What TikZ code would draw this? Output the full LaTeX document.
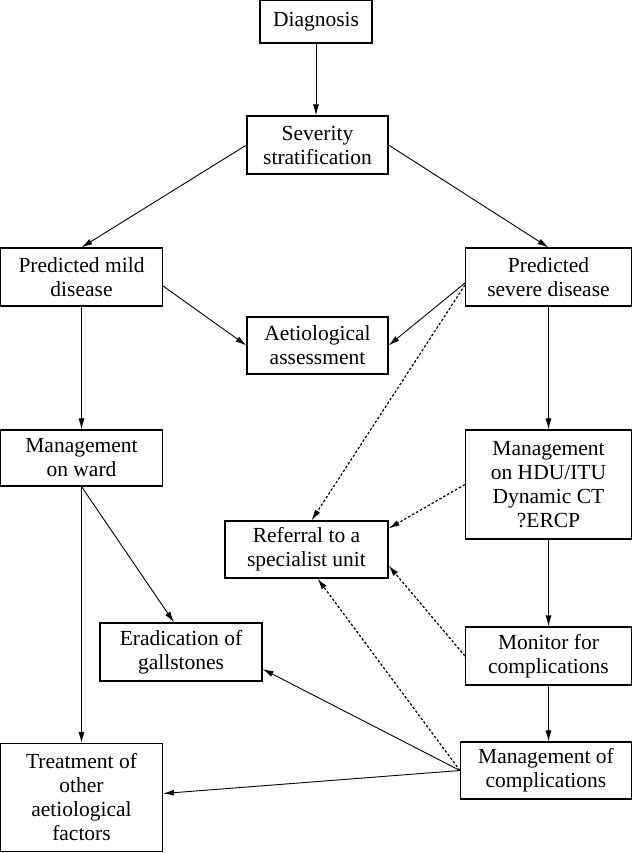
\documentclass[tikz,border=0pt]{standalone}
\usepackage{fontspec}
\setmainfont{Liberation Serif}
\usetikzlibrary{arrows.meta}
\tikzset{
  box/.style={draw, line width=1.1pt, align=center, inner sep=2pt,
    font=\fontsize{21.5}{24}\selectfont},
  arr/.style={-{Latex[length=11pt,width=6pt]}, line width=0.9pt},
  dots/.style={arr, line width=1.2pt, dash pattern=on 2.5pt off 2pt},
}
\begin{document}
\begin{tikzpicture}[x=1pt,y=1pt]
  \useasboundingbox (0,0) rectangle (633,-853);
  % boxes
  \node[box, minimum width=112, minimum height=43] (diag) at (316,-21.5) {Diagnosis};
  \node[box, minimum width=141, minimum height=58] (sev) at (317.5,-145) {Severity\\stratification};
  \node[box, minimum width=162, minimum height=58] (mild) at (81.5,-277) {Predicted mild\\disease};
  \node[box, minimum width=166, minimum height=58] (severe) at (548.5,-277) {Predicted\\severe disease};
  \node[box, minimum width=141, minimum height=57] (aet) at (317.5,-345.5) {Aetiological\\assessment};
  \node[box, minimum width=162, minimum height=56] (ward) at (81.5,-458) {Management\\on ward};
  \node[box, minimum width=166, minimum height=109] (hdu) at (548.5,-484.5) {Management\\on HDU/ITU\\Dynamic CT\\?ERCP};
  \node[box, minimum width=163, minimum height=57] (ref) at (306.5,-549.5) {Referral to a\\specialist unit};
  \node[box, minimum width=162, minimum height=58] (erad) at (181,-652) {Eradication of\\gallstones};
  \node[box, minimum width=166, minimum height=58] (mon) at (548.5,-656) {Monitor for\\complications};
  \node[box, minimum width=171, minimum height=57] (mcomp) at (546,-770.5) {Management of\\complications};
  \node[box, minimum width=162, minimum height=108] (treat) at (81.5,-797.5) {Treatment of\\other\\aetiological\\factors};
  % solid arrows
  \draw[arr] (diag.south) -- (diag.south |- sev.north);
  \draw[arr] (sev.west) -- (mild.north);
  \draw[arr] (sev.east) -- (severe.north);
  \draw[arr] ([yshift=-9pt]mild.east) -- (aet.west);
  \draw[arr] ([yshift=-6pt]severe.west) -- (aet.east);
  \draw[arr] (mild) -- (ward);
  \draw[arr] (severe) -- (hdu);
  \draw[arr] (ward.south) -- ([xshift=-7pt]erad.north);
  \draw[arr] (ward) -- (treat);
  \draw[arr] (hdu) -- (mon);
  \draw[arr] (mon.south) -- (mon.south |- mcomp.north);
  \draw[arr] (mcomp.west) -- ([yshift=-17pt]erad.east);
  \draw[arr] (mcomp.west) -- ([yshift=4pt]treat.east);
  % dotted arrows
  \draw[dots] ([yshift=-8pt]severe.west) -- ([xshift=5pt]ref.north);
  \draw[dots] (hdu.west) -- ([yshift=21pt]ref.east);
  \draw[dots] (mon.west) -- ([yshift=-16pt]ref.east);
  \draw[dots] (mcomp.west) -- ([xshift=11pt]ref.south);
\end{tikzpicture}
\end{document}
